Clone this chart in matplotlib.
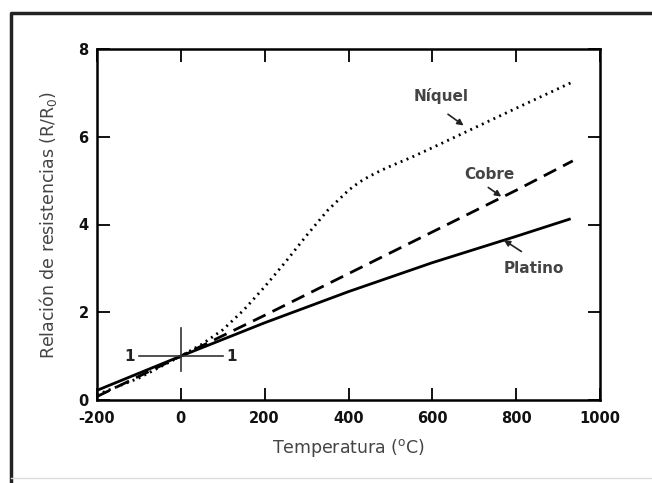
import numpy as np
import matplotlib
matplotlib.use("Agg")
import matplotlib.pyplot as plt
from matplotlib.lines import Line2D

plt.rcParams['axes.unicode_minus'] = False

# Temperature (C) and resistance ratio R/R0
temp_pt = [-200, 0, 200, 400, 600, 800, 930]
r_pt = [0.22, 1.0, 1.76, 2.47, 3.13, 3.73, 4.13]

temp_cu = [-200, 0, 200, 400, 600, 800, 935]
r_cu = [0.08, 1.0, 1.93, 2.88, 3.83, 4.78, 5.45]

temp_ni = [-200, -100, 0, 50, 100, 150, 200, 250, 300, 350, 400, 425, 450, 475,
           500, 550, 600, 700, 800, 935]
r_ni = [0.12, 0.5, 1.0, 1.27, 1.6, 2.05, 2.58, 3.15, 3.75, 4.32, 4.78, 4.96, 5.1, 5.22,
        5.33, 5.53, 5.75, 6.2, 6.65, 7.25]

xticks = [-200, 0, 200, 400, 600, 800, 1000]
yticks = [0, 2, 4, 6, 8]

fig = plt.figure(figsize=(6.52, 4.83), dpi=100)
ax = fig.add_axes([97 / 652, 1 - 400 / 483, 503 / 652, 351 / 483])

# outer frame of the scanned figure
fig.add_artist(Line2D([11 / 652, 11 / 652, 1.0], [0.0, 1 - 13 / 483, 1 - 13 / 483],
                      transform=fig.transFigure, color='#222222', lw=2.5))
fig.add_artist(Line2D([11 / 652, 1.0], [1 - 478 / 483, 1 - 478 / 483],
                      transform=fig.transFigure, color='#dddddd', lw=1))

ax.plot(temp_pt, r_pt, color='black', lw=2, solid_capstyle='butt')
ax.plot(temp_cu, r_cu, color='black', lw=2, dashes=(5, 2.8))
ax.plot(temp_ni, r_ni, color='black', lw=2, dashes=(0.7, 1.6))

# reference cross at (0, 1)
ax.plot([-100, 100], [1, 1], color='#333333', lw=1.2)
ax.plot([0, 0], [0.65, 1.65], color='#333333', lw=1.2)
ax.text(-122, 1, '1', ha='center', va='center', fontsize=11, fontweight='bold', color='#222222')
ax.text(122, 1, '1', ha='center', va='center', fontsize=11, fontweight='bold', color='#222222')

# curve labels with arrows
lab = dict(fontsize=11, fontweight='bold', color='#444444', ha='center', va='center')
arr = dict(arrowstyle='-|>', color='#222222', lw=1.2, mutation_scale=9)
ax.annotate('', xy=(680, 6.22), xytext=(632, 6.55), arrowprops=arr)
ax.text(622, 6.92, 'Níquel', **lab)
ax.annotate('', xy=(770, 4.6), xytext=(728, 4.88), arrowprops=arr)
ax.text(735, 5.15, 'Cobre', **lab)
ax.annotate('', xy=(765, 3.68), xytext=(818, 3.35), arrowprops=arr)
ax.text(843, 3.0, 'Platino', **lab)

ax.set_xlim(-200, 1000)
ax.set_ylim(0, 8)
ax.set_xticks(xticks)
ax.set_yticks(yticks)
ax.tick_params(direction='in', length=9, width=1.4, top=True, right=True,
               labelsize=10.5, colors='#111111')
ax.tick_params(axis='x', pad=8)
ax.tick_params(axis='y', pad=6)
for t in ax.get_xticklabels() + ax.get_yticklabels():
    t.set_fontweight('bold')
for s in ax.spines.values():
    s.set_linewidth(1.8)

ax.set_xlabel(r'Temperatura ($^{\mathregular{o}}$C)', fontsize=12.5, color='#444444', labelpad=8)
ax.set_ylabel(r'Relación de resistencias (R/R$_{\mathregular{0}}$)', fontsize=12.5,
              color='#444444', labelpad=14)

fig.savefig('out.png', dpi=100)
